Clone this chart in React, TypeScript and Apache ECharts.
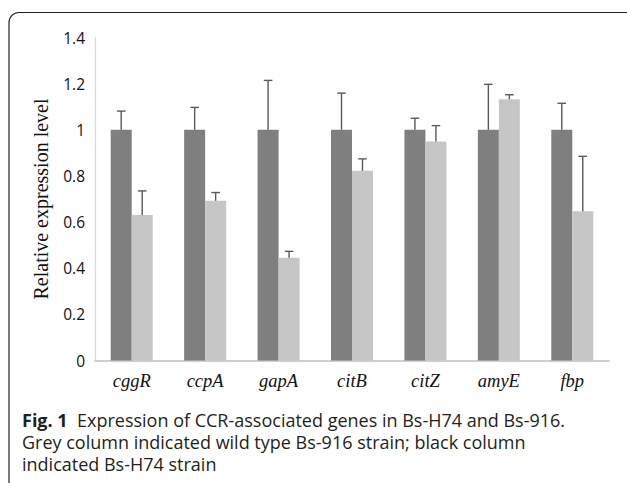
import React, { useEffect, useRef } from "react";
import * as echarts from "echarts";

const genes = ["cggR", "ccpA", "gapA", "citB", "citZ", "amyE", "fbp"];
const h74Values = [1.0, 1.0, 1.0, 1.0, 1.0, 1.0, 1.0];
const h74ErrTop = [1.081, 1.097, 1.214, 1.159, 1.05, 1.197, 1.115];
const bs916Values = [0.631, 0.692, 0.445, 0.822, 0.949, 1.132, 0.647];
const bs916ErrTop = [0.735, 0.728, 0.473, 0.874, 1.018, 1.152, 0.885];
const yTicks = [0, 0.2, 0.4, 0.6, 0.8, 1, 1.2, 1.4];
const captionLines = [
  "Expression of CCR-associated genes in Bs-H74 and Bs-916.",
  "Grey column indicated wild type Bs-916 strain; black column",
  "indicated Bs-H74 strain",
];

const BAR_W = 21;
const CAP_FONT = 18;
const CAP_LH = 22;

function errSeries(values: number[], tops: number[], offset: number) {
  return {
    type: "custom",
    z: 5,
    silent: true,
    data: values.map((v, i) => [i, v, tops[i]]),
    renderItem: (params: any, api: any) => {
      const base = api.coord([api.value(0), api.value(1)]);
      const top = api.coord([api.value(0), api.value(2)]);
      const x = base[0] + offset;
      const cap = 4.3;
      const style = { stroke: "#5a5a5a", lineWidth: 1.4 };
      return {
        type: "group",
        children: [
          { type: "line", shape: { x1: x, y1: base[1], x2: x, y2: top[1] }, style },
          { type: "line", shape: { x1: x - cap, y1: top[1], x2: x + cap, y2: top[1] }, style },
        ],
      };
    },
  };
}

function captionText(text: string, y: number, rich?: any) {
  return {
    type: "text",
    x: 22,
    y,
    style: {
      text,
      fontFamily: "Open Sans",
      fontSize: CAP_FONT,
      lineHeight: CAP_LH,
      fill: "#231f20",
      verticalAlign: "middle",
      rich,
    },
  };
}

export default function App() {
  const ref = useRef<HTMLDivElement>(null);
  useEffect(() => {
    if (!ref.current) return;
    const chart = echarts.init(ref.current, undefined, { renderer: "svg" });
    chart.setOption({
      animation: false,
      backgroundColor: "#ffffff",
      grid: { left: 95, right: 18, top: 37.5, bottom: 122.5, containLabel: false },
      xAxis: {
        type: "category",
        data: genes,
        axisLine: { show: true, lineStyle: { color: "#bfbfbf", width: 1.5 } },
        axisTick: { show: false },
        axisLabel: {
          margin: 11,
          fontFamily: "Liberation Serif",
          fontStyle: "italic",
          fontSize: 18.5,
          color: "#111",
        },
      },
      yAxis: {
        type: "value",
        min: 0,
        max: 1.4,
        interval: 0.2,
        name: "Relative expression level",
        nameLocation: "middle",
        nameGap: 44,
        nameTextStyle: { fontFamily: "Liberation Serif", fontSize: 20, color: "#111" },
        axisLine: { show: true, lineStyle: { color: "#d9d9d9", width: 1.2 } },
        axisTick: { show: false },
        splitLine: { show: false },
        axisLabel: {
          margin: 10,
          fontFamily: "Open Sans",
          fontSize: 15.5,
          color: "#111",
          formatter: (v: number) => {
            const t = yTicks.find((k) => Math.abs(k - v) < 1e-9);
            return t === undefined ? "" : String(t);
          },
        },
      },
      series: [
        {
          type: "bar",
          name: "Bs-H74",
          data: h74Values,
          barWidth: BAR_W,
          barGap: "0%",
          itemStyle: { color: "#7f7f7f" },
        },
        {
          type: "bar",
          name: "Bs-916",
          data: bs916Values,
          barWidth: BAR_W,
          barGap: "0%",
          itemStyle: { color: "#c5c6c5" },
        },
        errSeries(h74Values, h74ErrTop, -BAR_W / 2),
        errSeries(bs916Values, bs916ErrTop, BAR_W / 2),
      ],
      graphic: [
        {
          type: "rect",
          shape: { x: 9, y: 12.5, width: 700, height: 600, r: [10, 0, 0, 0] },
          style: { fill: "none", stroke: "#231f20", lineWidth: 1.2 },
          silent: true,
        },
        captionText("{b|Fig. 1}  " + captionLines[0], 420, {
          b: {
            fontFamily: "Open Sans",
            fontWeight: "bold",
            fontSize: CAP_FONT,
            lineHeight: CAP_LH,
            fill: "#231f20",
          },
        }),
        captionText(captionLines[1], 442),
        captionText(captionLines[2], 464),
      ],
    });
    return () => chart.dispose();
  }, []);
  return <div ref={ref} style={{ width: 627, height: 483, position: "absolute", left: 0, top: 0 }} />;
}
